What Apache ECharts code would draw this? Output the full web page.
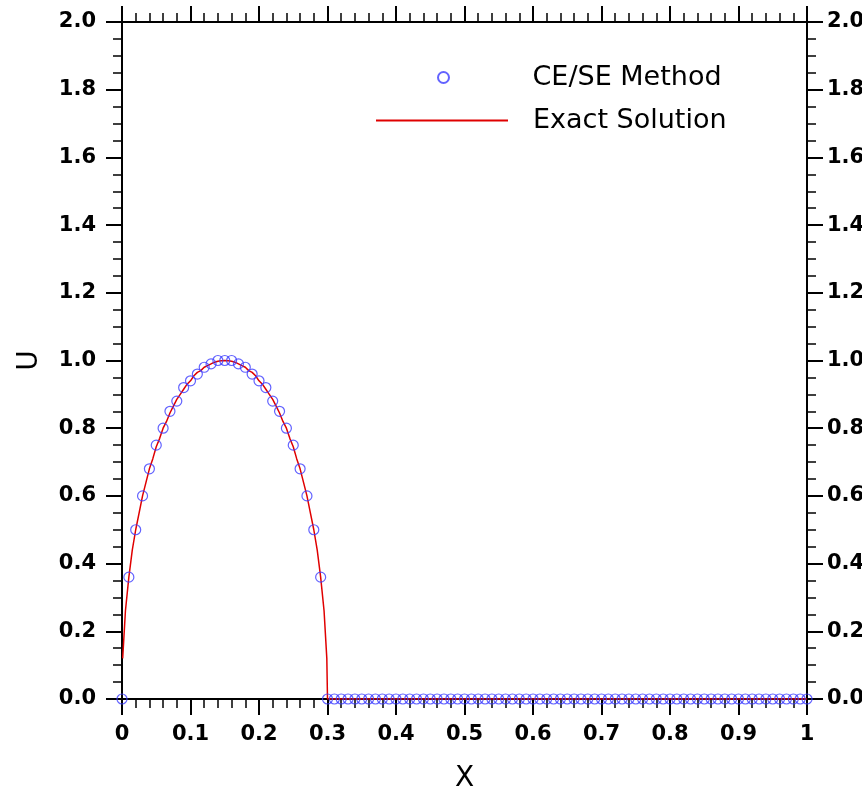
<!DOCTYPE html>
<html>
<head>
<meta charset="utf-8">
<script src="https://cdn.jsdelivr.net/npm/echarts@6/dist/echarts.min.js"></script>
<style>
  html, body { margin: 0; padding: 0; background: #fff; }
  #chart { width: 862px; height: 789px; }
</style>
</head>
<body>
<div id="chart"></div>
<script>
// CE/SE method points, every 0.01 from 0 to 1
var ceseX = [0, 0.01, 0.02, 0.03, 0.04, 0.05, 0.06, 0.07, 0.08, 0.09,
  0.10, 0.11, 0.12, 0.13, 0.14, 0.15, 0.16, 0.17, 0.18, 0.19,
  0.20, 0.21, 0.22, 0.23, 0.24, 0.25, 0.26, 0.27, 0.28, 0.29,
  0.30, 0.31, 0.32, 0.33, 0.34, 0.35, 0.36, 0.37, 0.38, 0.39,
  0.40, 0.41, 0.42, 0.43, 0.44, 0.45, 0.46, 0.47, 0.48, 0.49,
  0.50, 0.51, 0.52, 0.53, 0.54, 0.55, 0.56, 0.57, 0.58, 0.59,
  0.60, 0.61, 0.62, 0.63, 0.64, 0.65, 0.66, 0.67, 0.68, 0.69,
  0.70, 0.71, 0.72, 0.73, 0.74, 0.75, 0.76, 0.77, 0.78, 0.79,
  0.80, 0.81, 0.82, 0.83, 0.84, 0.85, 0.86, 0.87, 0.88, 0.89,
  0.90, 0.91, 0.92, 0.93, 0.94, 0.95, 0.96, 0.97, 0.98, 0.99, 1.0];
var ceseU = [0, 0.36, 0.50, 0.60, 0.68, 0.75, 0.80, 0.85, 0.88, 0.92,
  0.94, 0.96, 0.98, 0.99, 1.00, 1.00, 1.00, 0.99, 0.98, 0.96,
  0.94, 0.92, 0.88, 0.85, 0.80, 0.75, 0.68, 0.60, 0.50, 0.36,
  0, 0, 0, 0, 0, 0, 0, 0, 0, 0,
  0, 0, 0, 0, 0, 0, 0, 0, 0, 0,
  0, 0, 0, 0, 0, 0, 0, 0, 0, 0,
  0, 0, 0, 0, 0, 0, 0, 0, 0, 0,
  0, 0, 0, 0, 0, 0, 0, 0, 0, 0,
  0, 0, 0, 0, 0, 0, 0, 0, 0, 0,
  0, 0, 0, 0, 0, 0, 0, 0, 0, 0, 0];

// exact solution
var exactX = [0.001, 0.005, 0.01, 0.015, 0.02, 0.025, 0.03, 0.035, 0.04, 0.045,
  0.05, 0.055, 0.06, 0.065, 0.07, 0.075, 0.08, 0.085, 0.09, 0.095,
  0.10, 0.105, 0.11, 0.115, 0.12, 0.125, 0.13, 0.135, 0.14, 0.145,
  0.15, 0.155, 0.16, 0.165, 0.17, 0.175, 0.18, 0.185, 0.19, 0.195,
  0.20, 0.205, 0.21, 0.215, 0.22, 0.225, 0.23, 0.235, 0.24, 0.245,
  0.25, 0.255, 0.26, 0.265, 0.27, 0.275, 0.28, 0.285, 0.29, 0.295,
  0.299, 0.30, 1.0];
var exactU = [0.12, 0.26, 0.36, 0.44, 0.50, 0.55, 0.60, 0.64, 0.68, 0.71,
  0.745, 0.77, 0.80, 0.82, 0.845, 0.865, 0.885, 0.90, 0.915, 0.93,
  0.94, 0.955, 0.965, 0.97, 0.98, 0.985, 0.99, 0.995, 0.998, 0.999,
  1.0, 0.999, 0.998, 0.995, 0.99, 0.985, 0.98, 0.97, 0.965, 0.955,
  0.94, 0.93, 0.915, 0.90, 0.885, 0.865, 0.845, 0.82, 0.80, 0.77,
  0.745, 0.71, 0.68, 0.64, 0.60, 0.55, 0.50, 0.44, 0.36, 0.26,
  0.12, 0, 0];

var chart = echarts.init(document.getElementById('chart'));

function pairs(xs, ys) {
  var out = [];
  for (var i = 0; i < xs.length; i++) {
    out.push([xs[i], ys[i]]);
  }
  return out;
}

var axisFont = { fontFamily: 'DejaVu Sans', fontSize: 21, fontWeight: 'bold', color: '#000' };
var lineStyle = { color: '#000', width: 2 };

function legendText(pad) {
  return { fontFamily: 'DejaVu Sans', fontSize: 27, color: '#000', padding: [0, 0, 0, pad] };
}

function xAxisBase(pos, showLabel) {
  return {
    type: 'value', position: pos, min: 0, max: 1, interval: 0.1,
    axisLine: { show: true, onZero: false, lineStyle: lineStyle },
    axisTick: { show: true, length: 16, lineStyle: lineStyle },
    minorTick: { show: true, splitNumber: 5, length: 9, lineStyle: { color: '#000', width: 1.5 } },
    splitLine: { show: false },
    axisLabel: Object.assign({
      show: showLabel, margin: 25,
      formatter: function (v) { return v === 0 ? '0' : (v === 1 ? '1' : v.toFixed(1)); }
    }, axisFont)
  };
}

function yAxisBase(pos, margin) {
  return {
    type: 'value', position: pos, min: 0, max: 2, interval: 0.2,
    axisLine: { show: true, onZero: false, lineStyle: lineStyle },
    axisTick: { show: true, length: 16, lineStyle: lineStyle },
    minorTick: { show: true, splitNumber: 4, length: 9, lineStyle: { color: '#000', width: 1.5 } },
    splitLine: { show: false },
    axisLabel: Object.assign({
      margin: margin,
      formatter: function (v) { return v.toFixed(1); }
    }, axisFont)
  };
}

var xBottom = xAxisBase('bottom', true);
xBottom.name = 'X';
xBottom.nameLocation = 'middle';
xBottom.nameGap = 66;
xBottom.nameTextStyle = { fontFamily: 'DejaVu Sans', fontSize: 28, color: '#000' };

var yLeft = yAxisBase('left', 26);
yLeft.name = 'U';
yLeft.nameLocation = 'middle';
yLeft.nameGap = 78;
yLeft.nameTextStyle = { fontFamily: 'DejaVu Sans', fontSize: 28, color: '#000' };

var option = {
  animation: false,
  backgroundColor: '#fff',
  grid: { left: 122, right: 55, top: 22, bottom: 90, outerBoundsMode: 'none', containLabel: false },
  legend: [
    {
      left: 432, top: 59, padding: 5,
      itemWidth: 132, itemHeight: 11,
      data: ['CE/SE Method'],
      textStyle: legendText(18)
    },
    {
      left: 371, top: 102, padding: 5,
      itemWidth: 132, itemHeight: 2,
      icon: 'rect',
      data: ['Exact Solution'],
      textStyle: legendText(20)
    }
  ],
  xAxis: [xBottom, xAxisBase('top', false)],
  yAxis: [yLeft, yAxisBase('right', 20)],
  series: [
    {
      name: 'Exact Solution',
      type: 'line',
      data: pairs(exactX, exactU),
      symbol: 'none',
      lineStyle: { color: '#e00000', width: 1.5 },
      itemStyle: { color: '#e00000' },
      z: 2
    },
    {
      name: 'CE/SE Method',
      type: 'scatter',
      data: pairs(ceseX, ceseU),
      symbol: 'circle',
      symbolSize: 10,
      itemStyle: { color: 'rgba(0,0,0,0)', borderColor: '#3c3cff', borderWidth: 1.2 },
      z: 3
    }
  ]
};

chart.setOption(option);
</script>
</body>
</html>
